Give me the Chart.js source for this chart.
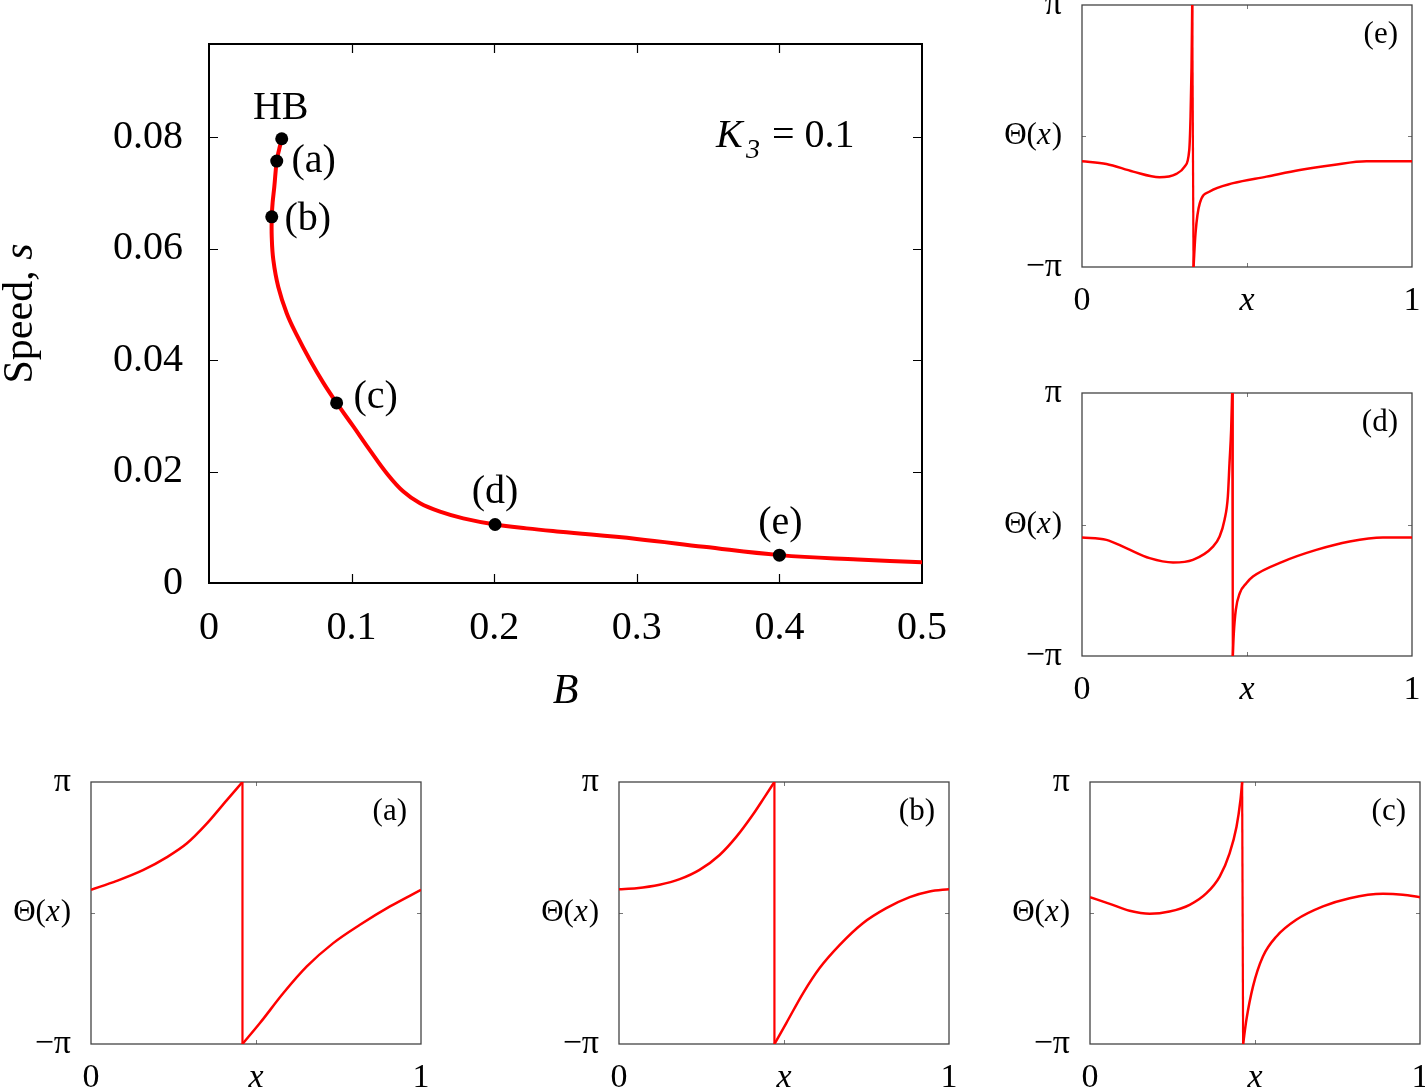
<!DOCTYPE html>
<html>
<head>
<meta charset="utf-8">
<script src="https://cdn.jsdelivr.net/npm/chart.js@4.4.0/dist/chart.umd.min.js"></script>
<style>
  html, body { margin: 0; padding: 0; background: #fff; }
  body { width: 1425px; height: 1088px; position: relative; overflow: hidden; }
  canvas { position: absolute; }
</style>
</head>
<body>
<canvas id="mainChart" width="980" height="730" style="left:0;top:0"></canvas>
<canvas id="panelE" width="435" height="330" style="left:990px;top:0"></canvas>
<canvas id="panelD" width="435" height="370" style="left:990px;top:350px"></canvas>
<canvas id="panelA" width="450" height="348" style="left:0;top:740px"></canvas>
<canvas id="panelB" width="450" height="348" style="left:520px;top:740px"></canvas>
<canvas id="panelC" width="435" height="348" style="left:990px;top:740px"></canvas>
<script>
const SERIF = '"Liberation Serif", "Times New Roman", serif';

// 主曲線: speed s vs B
const curveB = [0.0510, 0.0493, 0.0475, 0.0458, 0.0446, 0.0440, 0.0440, 0.0451, 0.0486, 0.0545,
                0.0615, 0.0708, 0.0802, 0.0895, 0.1012, 0.1129, 0.1246, 0.1363, 0.1480, 0.1620,
                0.1783, 0.2006, 0.2228, 0.2461, 0.3000, 0.3470, 0.4000, 0.4550, 0.5000];
const curveS = [0.0797, 0.0779, 0.0757, 0.0711, 0.0682, 0.0657, 0.0621, 0.0580, 0.0531, 0.0484,
                0.0445, 0.0400, 0.0359, 0.0323, 0.0281, 0.0238, 0.0197, 0.0164, 0.0143, 0.0128,
                0.0116, 0.0105, 0.0098, 0.0092, 0.0079, 0.0065, 0.0050, 0.0042, 0.0037];

const markerNames = ['HB', '(a)', '(b)', '(c)', '(d)', '(e)'];
const markerB = [0.0510, 0.0475, 0.0440, 0.0895, 0.2006, 0.4000];
const markerS = [0.0797, 0.0757, 0.0657, 0.0323, 0.0105, 0.0050];

const mainXTicks = [0, 0.1, 0.2, 0.3, 0.4, 0.5];
const mainYTicks = [0, 0.02, 0.04, 0.06, 0.08];

// 位相プロファイル Θ(x)/π  (ジャンプの左右)
const thetaA_left  = [[0,0.177],[0.078,0.245],[0.159,0.329],[0.229,0.425],[0.29,0.53],[0.35,0.68],[0.411,0.86],[0.459,1]];
const thetaA_right = [[0.459,-1],[0.512,-0.84],[0.583,-0.611],[0.654,-0.408],[0.734,-0.23],[0.815,-0.09],[0.906,0.05],[1,0.177]];

const thetaB_left  = [[0,0.182],[0.053,0.189],[0.123,0.215],[0.184,0.258],[0.244,0.329],[0.305,0.443],[0.356,0.583],[0.406,0.752],[0.441,0.885],[0.471,1]];
const thetaB_right = [[0.471,-1],[0.507,-0.84],[0.558,-0.611],[0.608,-0.42],[0.669,-0.243],[0.739,-0.078],[0.81,0.037],[0.881,0.121],[0.941,0.164],[1,0.182]];

const thetaC_left  = [[0,0.121],[0.06,0.07],[0.12,0.017],[0.181,-0.006],[0.241,0.011],[0.302,0.062],[0.353,0.151],[0.393,0.278],[0.423,0.456],[0.444,0.659],[0.456,0.863],[0.461,1]];
const thetaC_right = [[0.464,-1],[0.474,-0.814],[0.494,-0.56],[0.524,-0.332],[0.565,-0.179],[0.625,-0.052],[0.706,0.05],[0.787,0.113],[0.888,0.146],[0.948,0.139],[1,0.121]];

const thetaD_left  = [[0,-0.099],[0.074,-0.117],[0.134,-0.18],[0.205,-0.256],[0.276,-0.289],[0.336,-0.269],[0.397,-0.168],[0.417,-0.091],[0.432,0.036],[0.442,0.213],[0.447,0.467],[0.452,0.721],[0.455,1]];
const thetaD_right = [[0.457,-1],[0.46,-0.827],[0.466,-0.65],[0.478,-0.523],[0.498,-0.447],[0.518,-0.396],[0.609,-0.282],[0.71,-0.193],[0.811,-0.129],[0.912,-0.099],[1,-0.099]];

const thetaE_left  = [[0,-0.193],[0.074,-0.213],[0.155,-0.272],[0.235,-0.315],[0.286,-0.289],[0.311,-0.234],[0.325,-0.107],[0.329,0.147],[0.332,0.528],[0.334,1]];
const thetaE_right = [[0.338,-1],[0.344,-0.741],[0.357,-0.513],[0.387,-0.424],[0.458,-0.36],[0.559,-0.31],[0.66,-0.259],[0.761,-0.221],[0.862,-0.193],[1,-0.193]];

const panelXTicks = [0, 0.5, 1];
const panelXLabels = ['0', 'x', '1'];
const panelYTicks = [-1, 0, 1];
const panelYLabels = ['\u2212\u03c0', '', '\u03c0'];

// ---- 主グラフ ----
const mainDecor = {
    id: 'mainDecor',
    beforeDatasetsDraw(chart) {
        const { ctx, chartArea: a, scales: { x, y } } = chart;
        ctx.save();
        ctx.strokeStyle = '#000';
        ctx.lineWidth = 1.2;
        ctx.beginPath();
        x.ticks.forEach(t => {
            if (t.value <= 0 || t.value >= 0.5) return;
            const px = Math.round(x.getPixelForValue(t.value)) + 0.5;
            ctx.moveTo(px, a.bottom); ctx.lineTo(px, a.bottom - 9);
            ctx.moveTo(px, a.top); ctx.lineTo(px, a.top + 9);
        });
        y.ticks.forEach(t => {
            if (t.value <= 0) return;
            const py = Math.round(y.getPixelForValue(t.value)) + 0.5;
            ctx.moveTo(a.left, py); ctx.lineTo(a.left + 9, py);
            ctx.moveTo(a.right, py); ctx.lineTo(a.right - 9, py);
        });
        ctx.stroke();
        ctx.lineWidth = 2;
        ctx.strokeRect(a.left, a.top, a.right - a.left, a.bottom - a.top);
        ctx.restore();
    },
    afterDraw(chart) {
        const { ctx, chartArea: a, scales: { x, y } } = chart;
        const labelOffset = [[-1, -30], [37, 0], [36, 3], [39, -5], [0, -32], [1, -32]];
        ctx.save();
        ctx.fillStyle = '#000';
        ctx.textAlign = 'center';
        ctx.textBaseline = 'middle';
        ctx.font = '40px ' + SERIF;
        markerNames.forEach((n, i) => {
            ctx.fillText(n, x.getPixelForValue(markerB[i]) + labelOffset[i][0],
                            y.getPixelForValue(markerS[i]) + labelOffset[i][1]);
        });

        // K_3 = 0.1
        ctx.textAlign = 'left';
        ctx.textBaseline = 'alphabetic';
        ctx.font = 'italic 40px ' + SERIF;
        ctx.fillText('K', 716, 147);
        ctx.font = 'italic 28px ' + SERIF;
        ctx.fillText('3', 746, 158);
        ctx.font = '40px ' + SERIF;
        ctx.fillText('= 0.1', 772, 147);

        // x軸タイトル
        ctx.textAlign = 'center';
        ctx.textBaseline = 'middle';
        ctx.font = 'italic 42px ' + SERIF;
        ctx.fillText('B', (a.left + a.right) / 2, a.bottom + 109);

        // y軸タイトル (回転)
        ctx.translate(32, (a.top + a.bottom) / 2);
        ctx.rotate(-Math.PI / 2);
        ctx.textBaseline = 'alphabetic';
        ctx.textAlign = 'left';
        ctx.font = '42px ' + SERIF;
        const w1 = ctx.measureText('Speed, ').width;
        ctx.font = 'italic 42px ' + SERIF;
        const w2 = ctx.measureText('s').width;
        const x0 = -(w1 + w2) / 2;
        ctx.font = '42px ' + SERIF;
        ctx.fillText('Speed, ', x0, 0);
        ctx.font = 'italic 42px ' + SERIF;
        ctx.fillText('s', x0 + w1, 0);
        ctx.restore();
    }
};

new Chart(document.getElementById('mainChart').getContext('2d'), {
    type: 'scatter',
    data: {
        datasets: [{
            data: curveB.map((b, i) => ({ x: b, y: curveS[i] })),
            showLine: true,
            borderColor: '#ff0000',
            borderWidth: 4,
            pointRadius: 0,
            tension: 0.4,
            order: 2
        }, {
            data: markerB.map((b, i) => ({ x: b, y: markerS[i] })),
            pointRadius: 6.5,
            backgroundColor: '#000',
            borderWidth: 0,
            order: 1
        }]
    },
    options: {
        responsive: false,
        animation: false,
        layout: { padding: { top: 44, right: 58, left: 0, bottom: 0 } },
        plugins: { legend: { display: false }, tooltip: { enabled: false } },
        scales: {
            x: {
                type: 'linear', min: 0, max: 0.5,
                afterBuildTicks: s => { s.ticks = mainXTicks.map(v => ({ value: v })); },
                afterFit: s => { s.height = 147; s.paddingLeft = 0; s.paddingRight = 0; },
                grid: { display: false, drawTicks: false },
                border: { display: false },
                ticks: {
                    padding: 21, color: '#000', maxRotation: 0, autoSkip: false,
                    font: { family: SERIF, size: 40 },
                    callback: v => v === 0 ? '0' : v.toFixed(1)
                }
            },
            y: {
                type: 'linear', min: 0, max: 0.0967,
                afterBuildTicks: s => { s.ticks = mainYTicks.map(v => ({ value: v })); },
                afterFit: s => { s.width = 209; s.paddingTop = 0; s.paddingBottom = 0; },
                grid: { display: false, drawTicks: false },
                border: { display: false },
                ticks: {
                    padding: 26, color: '#000', autoSkip: false,
                    font: { family: SERIF, size: 40 },
                    callback: v => v === 0 ? '0' : v.toFixed(2)
                }
            }
        }
    },
    plugins: [mainDecor]
});

// ---- 小パネル Θ(x) ----
const panelDecor = {
    id: 'panelDecor',
    beforeDatasetsDraw(chart) {
        const { ctx, chartArea: a, scales: { x, y } } = chart;
        ctx.save();
        ctx.strokeStyle = '#777';
        ctx.lineWidth = 1;
        ctx.beginPath();
        const px = Math.round(x.getPixelForValue(0.5)) + 0.5;
        ctx.moveTo(px, a.bottom); ctx.lineTo(px, a.bottom - 4);
        ctx.moveTo(px, a.top); ctx.lineTo(px, a.top + 4);
        const py = Math.round(y.getPixelForValue(0)) + 0.5;
        ctx.moveTo(a.left, py); ctx.lineTo(a.left + 4, py);
        ctx.moveTo(a.right, py); ctx.lineTo(a.right - 4, py);
        ctx.stroke();
        ctx.strokeStyle = '#444';
        ctx.lineWidth = 1.3;
        ctx.strokeRect(a.left, a.top, a.right - a.left, a.bottom - a.top);
        ctx.restore();
    },
    afterDraw(chart, args, opts) {
        const { ctx, chartArea: a, scales: { y } } = chart;
        ctx.save();
        ctx.fillStyle = '#000';
        ctx.textBaseline = 'middle';
        // Θ(x) ラベル
        const yc = y.getPixelForValue(0);
        ctx.font = '31px ' + SERIF;
        const wA = ctx.measureText('\u0398(').width;
        const wC = ctx.measureText(')').width;
        ctx.font = 'italic 31px ' + SERIF;
        const wB = ctx.measureText('x').width + 1;
        let xs = a.left - 20 - (wA + wB + wC);
        ctx.textAlign = 'left';
        ctx.font = '31px ' + SERIF;
        ctx.fillText('\u0398(', xs, yc);
        ctx.font = 'italic 31px ' + SERIF;
        ctx.fillText('x', xs + wA, yc);
        ctx.font = '31px ' + SERIF;
        ctx.fillText(')', xs + wA + wB, yc);
        // パネル記号
        ctx.textAlign = 'right';
        ctx.font = '31px ' + SERIF;
        ctx.fillText(opts.tag, a.right - 14, a.top + 30);
        ctx.restore();
    }
};

function makePanel(id, tag, left, right, canvasLeft, canvasTop, plot) {
    const cv = document.getElementById(id);
    const W = cv.width, H = cv.height;
    const toPts = arr => arr.map(p => ({ x: p[0], y: p[1] }));
    const jump = [left[left.length - 1], right[0]];
    const lineStyle = { showLine: true, borderColor: '#ff0000', borderWidth: 2.5, pointRadius: 0 };
    new Chart(cv.getContext('2d'), {
        type: 'scatter',
        data: {
            datasets: [
                Object.assign({ data: toPts(left), cubicInterpolationMode: 'monotone' }, lineStyle),
                Object.assign({ data: toPts(jump), tension: 0 }, lineStyle, { borderWidth: 2.2 }),
                Object.assign({ data: toPts(right), cubicInterpolationMode: 'monotone' }, lineStyle)
            ]
        },
        options: {
            responsive: false,
            animation: false,
            layout: { padding: { top: plot.top - canvasTop, right: canvasLeft + W - plot.right, left: 0, bottom: 0 } },
            plugins: { legend: { display: false }, tooltip: { enabled: false }, panelDecor: { tag: tag } },
            scales: {
                x: {
                    type: 'linear', min: 0, max: 1,
                    afterBuildTicks: s => { s.ticks = panelXTicks.map(v => ({ value: v })); },
                    afterFit: s => { s.height = canvasTop + H - plot.bottom; s.paddingLeft = 0; s.paddingRight = 0; },
                    grid: { display: false, drawTicks: false },
                    border: { display: false },
                    ticks: {
                        padding: 14, color: '#000', maxRotation: 0, autoSkip: false,
                        font: c => (c.tick && c.tick.value === 0.5)
                            ? { family: SERIF, size: 34, style: 'italic' }
                            : { family: SERIF, size: 34 },
                        callback: (v, i) => panelXLabels[panelXTicks.indexOf(v)]
                    }
                },
                y: {
                    type: 'linear', min: -1, max: 1,
                    afterBuildTicks: s => { s.ticks = panelYTicks.map(v => ({ value: v })); },
                    afterFit: s => { s.width = plot.left - canvasLeft; s.paddingTop = 0; s.paddingBottom = 0; },
                    grid: { display: false, drawTicks: false },
                    border: { display: false },
                    ticks: {
                        padding: 20, color: '#000', autoSkip: false,
                        font: { family: SERIF, size: 34 },
                        callback: v => panelYLabels[panelYTicks.indexOf(v)]
                    }
                }
            }
        },
        plugins: [panelDecor]
    });
}

makePanel('panelE', '(e)', thetaE_left, thetaE_right, 990, 0,   { left: 1082, right: 1412, top: 5,   bottom: 267 });
makePanel('panelD', '(d)', thetaD_left, thetaD_right, 990, 350, { left: 1082, right: 1412, top: 393, bottom: 656 });
makePanel('panelA', '(a)', thetaA_left, thetaA_right, 0,   740, { left: 91,   right: 421,  top: 782, bottom: 1044 });
makePanel('panelB', '(b)', thetaB_left, thetaB_right, 520, 740, { left: 619,  right: 949,  top: 782, bottom: 1044 });
makePanel('panelC', '(c)', thetaC_left, thetaC_right, 990, 740, { left: 1090, right: 1420, top: 782, bottom: 1044 });
</script>
</body>
</html>
